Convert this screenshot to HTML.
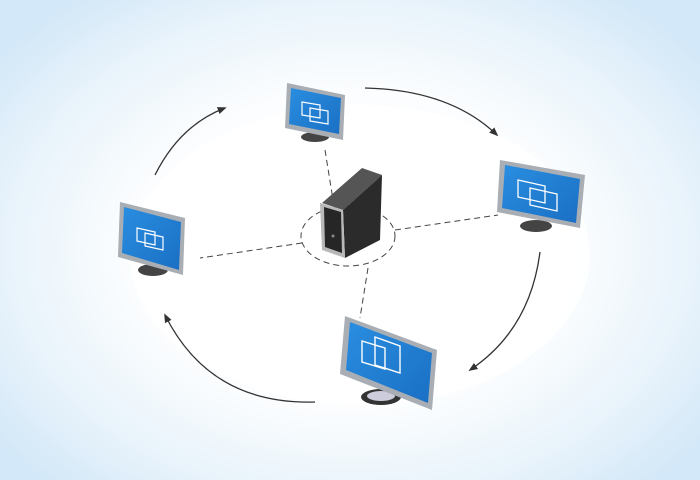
<!DOCTYPE html>
<html><head><style>
html,body{margin:0;padding:0;width:700px;height:480px;overflow:hidden;}
body{background:radial-gradient(ellipse 440px 320px at 350px 250px,#ffffff 0%,#fbfdfe 50%,#e8f3fb 78%,#d3e8f8 100%);}
</style></head><body>
<svg width="700" height="480" viewBox="0 0 700 480" xmlns="http://www.w3.org/2000/svg">
<defs>
<marker id="ar" viewBox="0 0 10 10" refX="8" refY="5" markerWidth="7" markerHeight="7" orient="auto"><path d="M0,1 L10,5 L0,9 z" fill="#333"/></marker>
<linearGradient id="scr" x1="0" y1="0" x2="1" y2="1"><stop offset="0" stop-color="#2a8ee0"/><stop offset="1" stop-color="#1a6fc4"/></linearGradient>
</defs>
<ellipse cx="360" cy="255" rx="230" ry="150" fill="#ffffff" opacity="0.85"/>
<g fill="none" stroke="#333" stroke-width="1.3">
<path d="M155,175 Q180,125 225,108" marker-end="url(#ar)"/>
<path d="M365,88 Q450,90 497,135" marker-end="url(#ar)"/>
<path d="M540,252 Q530,330 470,370" marker-end="url(#ar)"/>
<path d="M315,402 Q210,405 165,315" marker-end="url(#ar)"/>
</g>
<g fill="none" stroke="#444" stroke-width="1" stroke-dasharray="6,4">
<ellipse cx="348" cy="236" rx="47" ry="30"/>
<line x1="325" y1="150" x2="334" y2="206"/>
<line x1="395" y1="230" x2="498" y2="215"/>
<line x1="302" y1="243" x2="200" y2="258"/>
<line x1="368" y1="268" x2="360" y2="318"/>
</g>
<polygon points="322,203 362,168 382,175 343,210" fill="#555"/>
<polygon points="343,210 382,175 380,240 345,258" fill="#2b2b2b"/>
<polygon points="320,203 343,210 345,258 322,250" fill="#b8b8b8"/>
<polygon points="324,207 341,212 342,253 325,247" fill="#262626"/>
<circle cx="333" cy="236" r="1.5" fill="#888"/>
<g>
<ellipse cx="315" cy="137" rx="14" ry="5" fill="#444"/>
<polygon points="287,83 345,95 343,140 285,128" fill="#a9aeb4"/>
<polygon points="291,88 341,98 339,134 289,124" fill="url(#scr)"/>
<g stroke="#fff" fill="none" stroke-width="1.2"><polygon points="302,102 320,105 320,118 302,115"/><polygon points="310,108 328,111 328,124 310,121"/></g>
</g>
<g>
<ellipse cx="536" cy="226" rx="16" ry="6" fill="#444"/>
<polygon points="500,160 585,175 580,228 497,212" fill="#a9aeb4"/>
<polygon points="505,165 580,179 576,223 502,208" fill="url(#scr)"/>
<g stroke="#fff" fill="none" stroke-width="1.3"><polygon points="518,180 545,186 545,203 518,197"/><polygon points="530,188 557,194 557,211 530,205"/></g>
</g>
<g>
<ellipse cx="153" cy="270" rx="15" ry="6" fill="#444"/>
<polygon points="120,202 185,218 183,275 118,257" fill="#a9aeb4"/>
<polygon points="124,207 181,222 179,270 122,253" fill="url(#scr)"/>
<g stroke="#fff" fill="none" stroke-width="1.2"><polygon points="137,228 155,232 155,245 137,241"/><polygon points="145,233 163,237 163,250 145,246"/></g>
</g>
<g>
<ellipse cx="381" cy="397" rx="20" ry="8" fill="#333"/><ellipse cx="381" cy="396" rx="14" ry="5" fill="#ccd"/>
<polygon points="345,316 437,350 432,410 340,374" fill="#a9aeb4"/>
<polygon points="350,322 432,353 428,403 346,370" fill="url(#scr)"/>
<g stroke="#fff" fill="none" stroke-width="1.4"><polygon points="362,341 385,348 385,369 362,362"/><polygon points="375,337 400,346 400,373 375,365"/></g>
</g>
</svg>
</body></html>
